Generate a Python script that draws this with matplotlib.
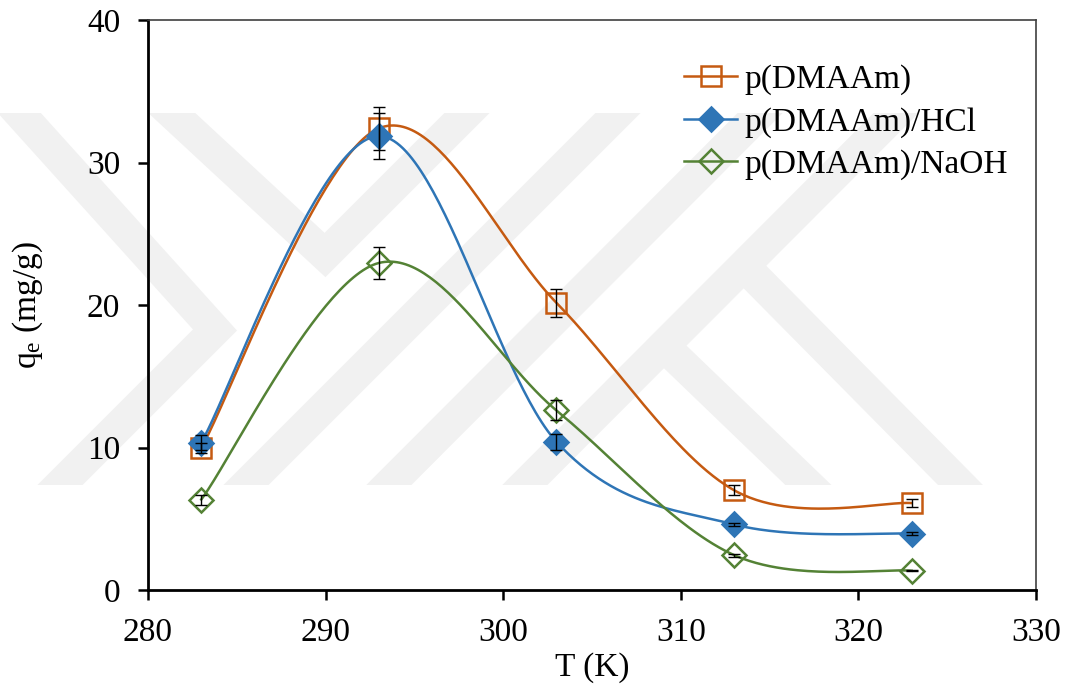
import numpy as np
import matplotlib
matplotlib.use('Agg')
import matplotlib.pyplot as plt
from matplotlib.lines import Line2D
from matplotlib.patches import Rectangle

plt.rcParams['font.family'] = ['Liberation Serif', 'DejaVu Serif']
plt.rcParams['mathtext.fontset'] = 'custom'
plt.rcParams['mathtext.rm'] = 'Liberation Serif'
plt.rcParams['mathtext.it'] = 'Liberation Serif:italic'

# data
T = [283, 293, 303, 313, 323]
q_dmaam = [9.95, 32.4, 20.15, 7.0, 6.1]
err_dmaam = [0.35, 1.5, 1.0, 0.35, 0.3]
q_hcl = [10.35, 31.85, 10.4, 4.6, 3.95]
err_hcl = [0.55, 1.6, 0.55, 0.1, 0.1]
q_naoh = [6.35, 22.95, 12.6, 2.45, 1.35]
err_naoh = [0.35, 1.15, 0.7, 0.1, 0.05]

labels = ['p(DMAAm)', 'p(DMAAm)/HCl', 'p(DMAAm)/NaOH']
colors = ['#C55A11', '#2E75B6', '#548235']


def smooth(xs, ys, n=60):
    # excel style smoothed line (bezier through the points)
    p = np.column_stack([xs, ys]).astype(float)
    out = []
    for i in range(len(p) - 1):
        p0 = p[max(i - 1, 0)]
        p1 = p[i]
        p2 = p[i + 1]
        p3 = p[min(i + 2, len(p) - 1)]
        c1 = p1 + (p2 - p0) / 6
        c2 = p2 - (p3 - p1) / 6
        t = np.linspace(0, 1, n)[:, None]
        seg = (1 - t)**3 * p1 + 3 * (1 - t)**2 * t * c1 + 3 * (1 - t) * t**2 * c2 + t**3 * p2
        out.append(seg if i == 0 else seg[1:])
    return np.vstack(out)


fig = plt.figure(figsize=(10.66, 6.86), dpi=100)

# faint watermark behind the plot (pixel coords)
wm = fig.add_axes([0, 0, 1, 1], zorder=-1)
wm.set_xlim(0, 1066)
wm.set_ylim(686, 0)
wm.axis('off')
clip = Rectangle((0, 113), 1000, 372, transform=wm.transData)
bands = [
    [(-60, 25), (215, 330), (-40, 585)],
    [(120, 65), (325, 255), (530, 50)],
    [(146, 585), (719, 12)],
    [(289, 585), (861, 12)],
    [(425, 585), (997, 12)],
    [(745, 267), (1000, 525)],
    [(668, 350), (850, 525)],
]
for b in bands:
    bx, by = zip(*b)
    ln, = wm.plot(bx, by, color='#f1f1f1', lw=23, solid_capstyle='butt',
                  solid_joinstyle='miter')
    ln.set_clip_path(clip)

ax = fig.add_axes([148 / 1066, 96 / 686, 888 / 1066, 570 / 686])
ax.set_facecolor('none')

series = [(q_dmaam, err_dmaam, 's', 'none'),
          (q_hcl, err_hcl, 'D', None),
          (q_naoh, err_naoh, 'D', 'none')]
handles = []
for (q, e, m, fc), c, lab in zip(series, colors, labels):
    curve = smooth(T, q)
    ax.plot(curve[:, 0], curve[:, 1], color=c, lw=1.8, zorder=2)
    ms = 15 if m == 's' else 12.5
    mfc = c if fc is None else 'none'
    ax.plot(T, q, ls='none', marker=m, ms=ms, mfc=mfc, mec=c, mew=1.8, zorder=3)
    ax.errorbar(T, q, yerr=e, fmt='none', ecolor='black', elinewidth=1,
                capsize=4.5, capthick=1, zorder=4)
    handles.append(Line2D([], [], color=c, lw=1.8, marker=m, ms=ms, mfc=mfc,
                          mec=c, mew=1.8))

ax.set_xlim(280, 330)
ax.set_ylim(0, 40)
ax.set_xticks(np.arange(280, 331, 10))
ax.set_yticks(np.arange(0, 41, 10))

for side in ['left', 'bottom']:
    ax.spines[side].set_linewidth(2)
    ax.spines[side].set_color('black')
for side in ['top', 'right']:
    ax.spines[side].set_linewidth(1.2)
    ax.spines[side].set_color('#404040')

ax.tick_params(axis='both', direction='out', length=7, width=1.8, labelsize=24)
ax.tick_params(axis='x', pad=13)
ax.tick_params(axis='y', pad=13)

ax.set_xlabel('T (K)', fontsize=24, labelpad=3)
ax.set_ylabel(r'q$_{\mathregular{e}}$ (mg/g)', fontsize=24, labelpad=30)

ax.legend(handles, labels, loc='upper left', bbox_to_anchor=(684 / 1066, 1 - 64 / 686),
          bbox_transform=fig.transFigure, frameon=False, fontsize=24,
          borderaxespad=0, borderpad=0, handlelength=1.6, handletextpad=0.2,
          labelspacing=0.36)

fig.savefig('out.png', dpi=100, facecolor='white')
